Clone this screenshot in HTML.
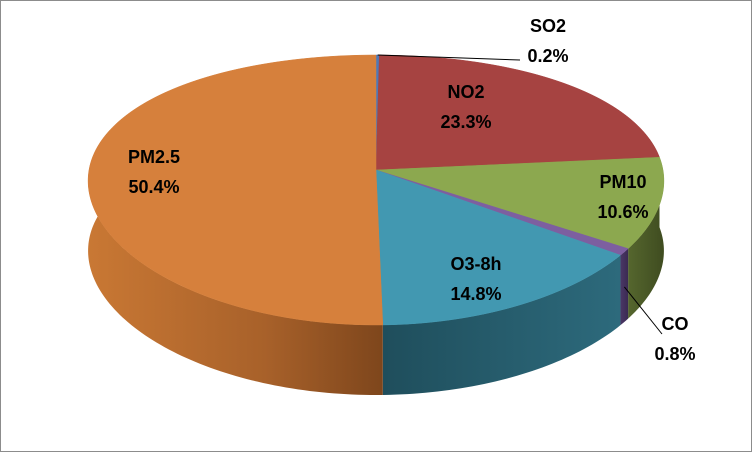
<!DOCTYPE html>
<html><head><meta charset="utf-8"><style>
body{margin:0;background:#fff}
svg{display:block}
text{font-family:"Liberation Sans",sans-serif;font-weight:bold;font-size:18px;fill:#000;text-anchor:middle}
</style></head><body>
<svg id="chart" width="752" height="452" viewBox="0 0 752 452">
<defs>
<linearGradient id="gOr" x1="0" x2="1" y1="0" y2="0"><stop offset="0" stop-color="#c97834"/><stop offset="0.6" stop-color="#a8612a"/><stop offset="1" stop-color="#7e461c"/></linearGradient>
<linearGradient id="gBl" x1="0" x2="1" y1="0" y2="0"><stop offset="0" stop-color="#1f4e5c"/><stop offset="1" stop-color="#2d6a7c"/></linearGradient>
<linearGradient id="gGr" x1="0" x2="1"><stop offset="0" stop-color="#55662e"/><stop offset="1" stop-color="#3f4c20"/></linearGradient>
<linearGradient id="gPu" x1="0" x2="1"><stop offset="0" stop-color="#4a3766"/><stop offset="1" stop-color="#3a2a52"/></linearGradient>
<linearGradient id="gRd" x1="0" x2="1"><stop offset="0" stop-color="#7a2f2e"/><stop offset="1" stop-color="#5e2322"/></linearGradient>
<linearGradient id="gSb" x1="0" x2="1"><stop offset="0" stop-color="#3a5a88"/><stop offset="1" stop-color="#2e4a72"/></linearGradient>
</defs>
<rect x="0.5" y="0.5" width="751" height="451" fill="#fff" stroke="#8c8c8c"/>
<g id="sides"></g><g id="tops"></g><g id="labels"></g>
</svg>
<script>
const categories=["SO2","NO2","PM10","CO","O3-8h","PM2.5"];
const values=[0.2,23.3,10.6,0.8,14.8,50.4];
const labelText=["0.2%","23.3%","10.6%","0.8%","14.8%","50.4%"];
const topColors=["#4f79b7","#a64341","#8ca84f","#7d5fa0","#4298b1","#d6803c"];
const sideFills=["url(#gSb)","url(#gRd)","url(#gGr)","url(#gPu)","url(#gBl)","url(#gOr)"];
const cx=376,cy=170,rx=287,ryBack=115,ryFront=155,persp=0.08,depth=70;
const NS="http://www.w3.org/2000/svg";
function pt(t,dy){const c=Math.cos(t);
  const y=cy-((ryBack+ryFront)/2)*c+((ryFront-ryBack)/2)*c*c;
  return [cx+rx*Math.sin(t)*(1-persp*c),y+(dy||0)];}
function arcPts(a,b,dy){const n=Math.max(2,Math.ceil((b-a)/0.02));let s=[];for(let i=0;i<=n;i++){s.push(pt(a+(b-a)*i/n,dy));}return s;}
const total=values.reduce((a,b)=>a+b,0);
let acc=0;const sides=document.getElementById('sides'),tops=document.getElementById('tops'),labs=document.getElementById('labels');
const angs=values.map(v=>{const a=acc/total*2*Math.PI;acc+=v;return [a,acc/total*2*Math.PI];});
angs.forEach(([a,b],i)=>{
  const s=Math.max(a,Math.PI*0.42),e=Math.min(b,Math.PI*1.58);
  if(e>s){const top=arcPts(s,e,0),bot=arcPts(s,e,depth).reverse();
    const p=document.createElementNS(NS,'path');
    p.setAttribute('d','M'+top.concat(bot).map(q=>q.join(',')).join('L')+'Z');
    p.setAttribute('fill',sideFills[i]);
    
    
    sides.appendChild(p);}
  const pts=arcPts(a,b,0);
  const p=document.createElementNS(NS,'path');
  p.setAttribute('d','M'+cx+','+cy+'L'+pts.map(q=>q.join(',')).join('L')+'Z');
  p.setAttribute('fill',topColors[i]);p.setAttribute('stroke',topColors[i]);p.setAttribute('stroke-width','0.5');
  
  
  tops.appendChild(p);
});
const labPos=[[548,32],[466,98],[623,188],[675,330],[476,270],[154,163]];
angs.forEach(([a,b],i)=>{
  const [x,y]=labPos[i];
  if(values[i]<1){const m=(a+b)/2,q=pt(m,i==3?depth/2:0);
    const l=document.createElementNS(NS,'polyline');
    const ex=i==0?[520,60]:[662,334];
    l.setAttribute('points',q.join(',')+' '+ex.join(','));
    l.setAttribute('stroke','#000');l.setAttribute('fill','none');
    
    
    labs.appendChild(l);}
  const t=document.createElementNS(NS,'text');
  t.setAttribute('x',x);t.setAttribute('y',y);
  
  
  const s1=document.createElementNS(NS,'tspan');s1.setAttribute('x',x);s1.textContent=categories[i];
  const s2=document.createElementNS(NS,'tspan');s2.setAttribute('x',x);s2.setAttribute('dy','30');s2.textContent=labelText[i];
  t.appendChild(s1);t.appendChild(s2);labs.appendChild(t);
});
</script>
</body></html>
